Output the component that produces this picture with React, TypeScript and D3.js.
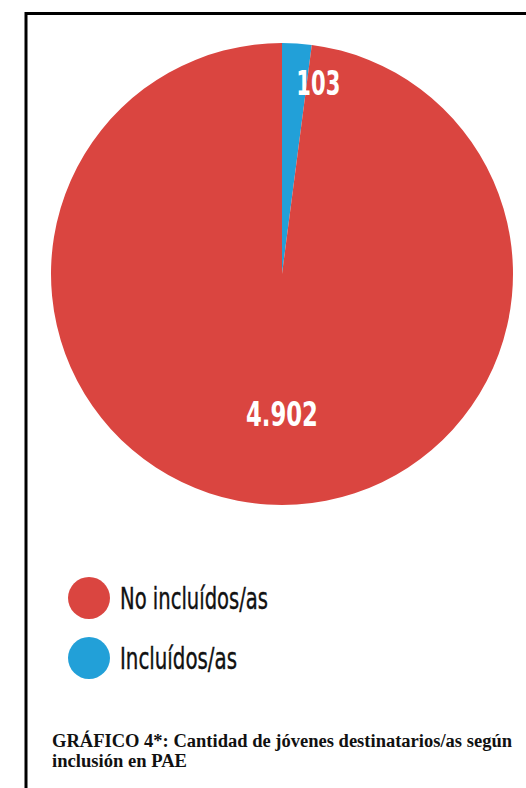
import React, { useEffect, useRef } from 'react';
import * as d3 from 'd3';

const categories = ['Incluídos/as', 'No incluídos/as'];
const values = [103, 4902];
const valueLabels = ['103', '4.902'];
const colors = ['#22A0D8', '#DA4540'];
const legendOrder = ['No incluídos/as', 'Incluídos/as'];
const captionLines = ['GRÁFICO 4*: Cantidad de jóvenes destinatarios/as según', 'inclusión en PAE'];

export default function App() {
  const svgRef = useRef<SVGSVGElement>(null);

  useEffect(() => {
    if (!svgRef.current) return;
    const width = 526;
    const height = 788;
    const cx = 282;
    const cy = 274;
    const radius = 231;

    const svg = d3.select(svgRef.current);
    svg.selectAll('*').remove();

    svg.append('rect').attr('width', width).attr('height', height).attr('fill', '#fff');

    // frame (top and left borders visible, rest runs off the page)
    svg.append('path')
      .attr('d', `M26,${height + 5} V13.5 H${width + 5}`)
      .attr('fill', 'none')
      .attr('stroke', '#000')
      .attr('stroke-width', 3);

    const data = categories.map((c, i) => ({ cat: c, value: values[i], label: valueLabels[i], color: colors[i] }));
    const pie = d3.pie<any>().sort(null).value(d => d.value);
    const arcs = pie(data);
    const arc = d3.arc<any>().innerRadius(0).outerRadius(radius);

    const g = svg.append('g').attr('transform', `translate(${cx},${cy})`);
    g.selectAll('path.slice')
      .data(arcs)
      .enter().append('path')
      .attr('class', 'slice')
      .attr('d', arc)
      .attr('fill', d => d.data.color);

    // value labels
    const labelPos = [
      { r: 191, dx: 24, len: 44 },
      { r: 140, dx: 9, len: 72 },
    ];
    g.selectAll('text.val')
      .data(arcs)
      .enter().append('text')
      .attr('class', 'val')
      .attr('x', (d, i) => {
        const a = (d.startAngle + d.endAngle) / 2;
        return Math.sin(a) * labelPos[i].r + labelPos[i].dx;
      })
      .attr('y', (d, i) => {
        const a = (d.startAngle + d.endAngle) / 2;
        return -Math.cos(a) * labelPos[i].r + 12;
      })
      .attr('text-anchor', 'middle')
      .attr('font-family', '"DejaVu Sans Condensed", "Liberation Sans Narrow", sans-serif')
      .attr('font-weight', 'bold')
      .attr('font-size', 34)
      .attr('fill', '#fff')
      .attr('textLength', (d, i) => labelPos[i].len)
      .attr('lengthAdjust', 'spacingAndGlyphs')
      .text(d => d.data.label);

    // legend
    const legendY = d3.scalePoint<string>().domain(legendOrder).range([598, 658]);
    const legendWidths: Record<string, number> = { 'No incluídos/as': 148, 'Incluídos/as': 117 };
    const lg = svg.append('g');
    legendOrder.forEach(name => {
      const i = categories.indexOf(name);
      const y = legendY(name) as number;
      lg.append('circle').attr('cx', 89).attr('cy', y).attr('r', 21).attr('fill', colors[i]);
      lg.append('text')
        .attr('x', 120)
        .attr('y', y + 11)
        .attr('font-family', '"Liberation Sans Narrow", "DejaVu Sans Condensed", sans-serif')
        .attr('font-size', 30)
        .attr('fill', '#111')
        .attr('stroke', '#111')
        .attr('stroke-width', 0.4)
        .attr('textLength', legendWidths[name])
        .attr('lengthAdjust', 'spacingAndGlyphs')
        .text(name);
    });

    // caption
    const capLens = [460, 135];
    captionLines.forEach((line, i) => {
      svg.append('text')
        .attr('x', 52)
        .attr('y', 747 + i * 20)
        .attr('font-family', '"Liberation Serif", "DejaVu Serif", serif')
        .attr('font-weight', 'bold')
        .attr('font-size', 18)
        .attr('fill', '#111')
        .attr('textLength', capLens[i])
        .attr('lengthAdjust', 'spacingAndGlyphs')
        .text(line);
    });
  }, []);

  return (
    <div style={{ position: 'absolute', left: 0, top: 0, width: 526, height: 788, overflow: 'hidden' }}>
      <svg ref={svgRef} width={526} height={788} style={{ display: 'block' }} />
    </div>
  );
}
